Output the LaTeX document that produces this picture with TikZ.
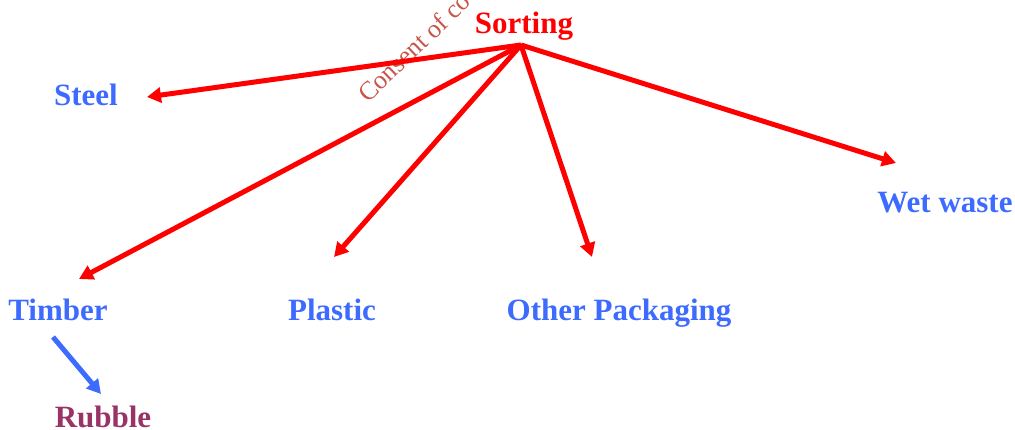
\documentclass[tikz,border=0pt]{standalone}
\usepackage{fontspec}
\setmainfont{Liberation Serif}
\usetikzlibrary{arrows.meta}
\definecolor{flowred}{HTML}{FF0000}
\definecolor{itemblue}{HTML}{3D6BFF}
\definecolor{rubblepurple}{HTML}{993366}
\definecolor{markbrown}{HTML}{C8554A}
\tikzset{
  label/.style={font=\fontsize{31}{34}\selectfont\bfseries, inner sep=0pt, anchor=base},
  item/.style={label, text=itemblue},
  flow/.style={draw=flowred, line width=5pt, -{Triangle[length=14pt,width=15pt]}},
  subflow/.style={draw=itemblue, line width=5pt, -{Triangle[length=14pt,width=15pt]}}
}
\begin{document}
\begin{tikzpicture}[x=1pt,y=-1pt]
\useasboundingbox (0,0) rectangle (1015,430);
% watermark text running diagonally behind the hub
\begin{scope}
  \clip (0,0) rectangle (1015,430);
  \node[rotate=44, anchor=base west, inner sep=0pt, text=markbrown,
        font=\fontsize{26}{28}\selectfont] (mark) at (368,104) {Consent of co};
\end{scope}
% labels
\node[label, text=flowred] (sort) at (524,34) {Sorting};
\node[item] (steel) at (86,106) {Steel};
\node[item] (wet) at (945,213) {Wet waste};
\node[item] (timber) at (58,321) {Timber};
\node[item] (plastic) at (332,321) {Plastic};
\node[item] (other) at (619,321) {Other Packaging};
\node[label, text=rubblepurple] (rubble) at (103,427) {Rubble};
% arrow end points
\coordinate (hub) at (521,45);
\coordinate (toSteel) at (147,97);
\coordinate (toTimber) at (79,279);
\coordinate (toPlastic) at (334,257);
\coordinate (toOther) at (592,257);
\coordinate (toWet) at (896,163);
\coordinate (fromTimber) at (53,337);
\coordinate (toRubble) at (101,394);
% connectors
\draw[flow] (hub) -- (toSteel);
\draw[flow] (hub) -- (toTimber);
\draw[flow] (hub) -- (toPlastic);
\draw[flow] (hub) -- (toOther);
\draw[flow] (hub) -- (toWet);
\draw[subflow] (fromTimber) -- (toRubble);
\end{tikzpicture}
\end{document}
